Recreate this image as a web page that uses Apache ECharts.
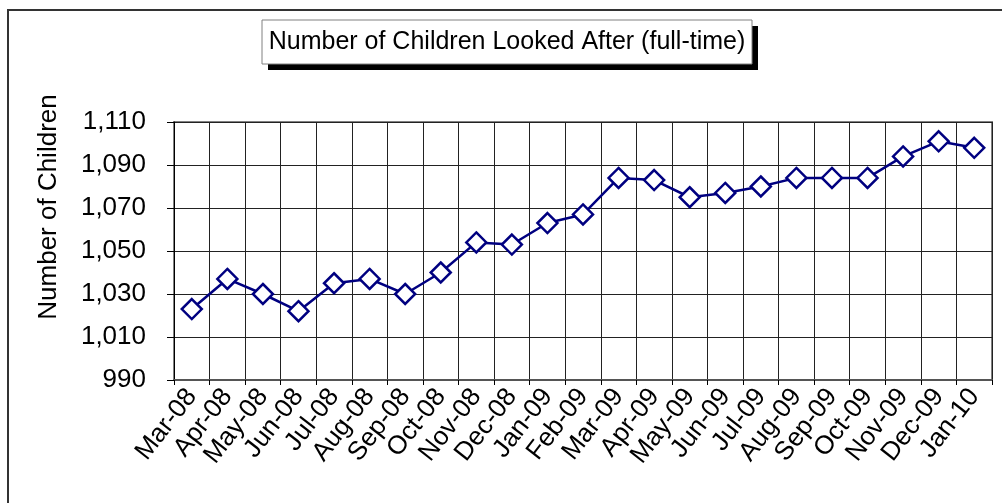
<!DOCTYPE html>
<html>
<head>
<meta charset="utf-8">
<script src="https://cdn.jsdelivr.net/npm/echarts@6/dist/echarts.min.js"></script>
<style>
html,body{margin:0;padding:0;background:#fff;}
#chart{width:1002px;height:503px;}
</style>
</head>
<body>
<div id="chart"></div>
<script>
var titleText = 'Number of Children Looked After (full-time)';
var yAxisName = 'Number of Children';
var categories = ['Mar-08','Apr-08','May-08','Jun-08','Jul-08','Aug-08','Sep-08','Oct-08','Nov-08','Dec-08','Jan-09','Feb-09','Mar-09','Apr-09','May-09','Jun-09','Jul-09','Aug-09','Sep-09','Oct-09','Nov-09','Dec-09','Jan-10'];
var children = [1023,1037,1030,1022,1035,1037,1030,1040,1054,1053,1063,1067,1084,1083,1075,1077,1080,1084,1084,1084,1094,1101,1098];
var yMin = 990, yMax = 1110, yStep = 20;

var FONT = '"Liberation Sans", Arial, sans-serif';
var chart = echarts.init(document.getElementById('chart'), null, {renderer:'canvas'});
chart.setOption({
  backgroundColor: '#fff',
  animation: false,
  grid: {left: 174, right: 10, top: 122, bottom: 123, show: true, borderColor: '#808080', borderWidth: 2, backgroundColor: 'transparent'},
  xAxis: {
    type: 'category',
    data: categories,
    boundaryGap: true,
    axisLine: {show: true, lineStyle: {color: '#555', width: 2}},
    axisTick: {show: true, length: 5, lineStyle: {color: '#000'}},
    splitLine: {show: true, lineStyle: {color: '#222', width: 1}},
    axisLabel: {interval: 0, rotate: 52, margin: 12, color: '#000', fontFamily: FONT, fontSize: 26}
  },
  yAxis: {
    type: 'value',
    min: yMin, max: yMax, interval: yStep,
    name: yAxisName,
    nameLocation: 'middle',
    nameGap: 112,
    nameTextStyle: {color: '#000', fontFamily: FONT, fontSize: 26, padding: [0, 0, 0, 88]},
    axisLine: {show: true, lineStyle: {color: '#000', width: 1}},
    axisTick: {show: true, length: 7, lineStyle: {color: '#000'}},
    splitLine: {show: true, lineStyle: {color: '#222', width: 1}},
    axisLabel: {margin: 28, color: '#000', fontFamily: FONT, fontSize: 26,
      formatter: function(v){ return v.toLocaleString('en-US'); }}
  },
  series: [{
    type: 'line',
    data: children,
    symbol: 'diamond',
    symbolSize: 20,
    showAllSymbol: true,
    lineStyle: {color: '#000080', width: 2.5},
    itemStyle: {color: '#fff', borderColor: '#000080', borderWidth: 2.5},
    z: 5
  }],
  graphic: [
    {type: 'rect', shape: {x: 8, y: 10, width: 1010, height: 520}, style: {fill: 'none', stroke: '#333', lineWidth: 2}, silent: true},
    {type: 'rect', shape: {x: 268, y: 26, width: 490, height: 44}, style: {fill: '#000'}, silent: true, z: 10},
    {type: 'rect', shape: {x: 262, y: 20, width: 490, height: 44}, style: {fill: '#fff', stroke: '#808080', lineWidth: 1}, silent: true, z: 11},
    {type: 'text', x: 507, y: 42, style: {text: titleText, fill: '#000', font: '25px ' + FONT, textAlign: 'center', textVerticalAlign: 'middle'}, silent: true, z: 12}
  ]
});
</script>
</body>
</html>
